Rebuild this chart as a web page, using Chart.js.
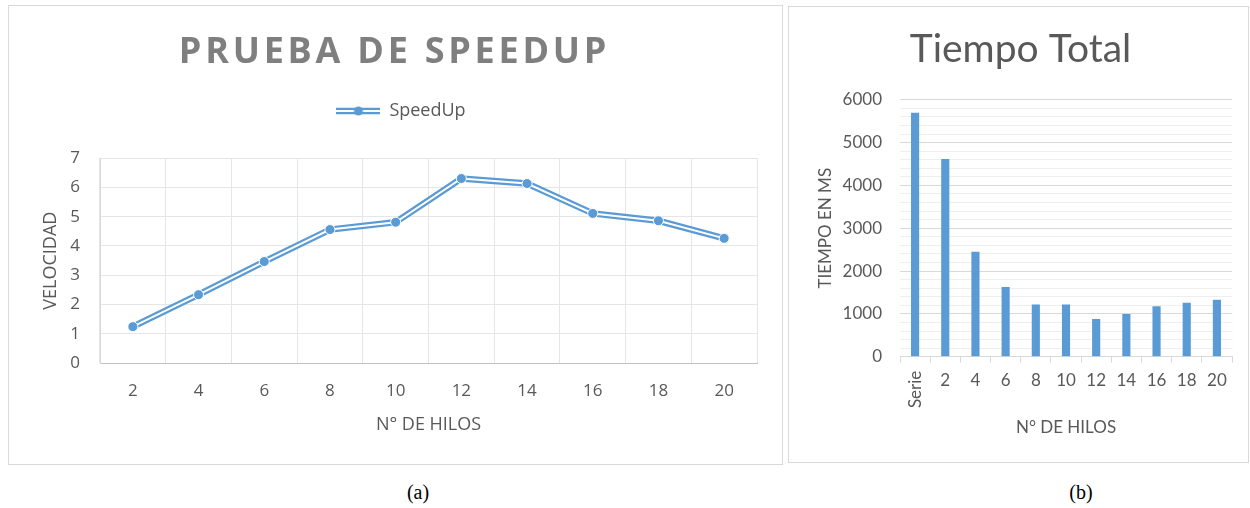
<!DOCTYPE html>
<html lang="es">
<head>
<meta charset="utf-8">
<title>Prueba de speedup y tiempo total</title>
<script src="https://cdn.jsdelivr.net/npm/chart.js@4.4.1/dist/chart.umd.min.js"></script>
<style>
  html, body { margin: 0; padding: 0; background: #fff; }
  body { width: 1250px; height: 508px; position: relative; overflow: hidden; }
  .box { position: absolute; border: 1px solid #d9d9d9; background: #fff; }
  #boxA { left: 8px; top: 5px; width: 773px; height: 458px; }
  #boxB { left: 788px; top: 6px; width: 459px; height: 455px; }
  .cap { position: absolute; top: 480px; font-family: "Liberation Serif", serif; font-size: 20px;
         line-height: 24px; color: #000; transform: translateX(-50%); }
</style>
</head>
<body>
<div class="box" id="boxA"><canvas id="speedupChart"></canvas></div>
<div class="box" id="boxB"><canvas id="tiempoChart"></canvas></div>
<div class="cap" style="left:418px">(a)</div>
<div class="cap" style="left:1081px">(b)</div>

<script>
// datos
const hilos = ['2', '4', '6', '8', '10', '12', '14', '16', '18', '20'];
const speedup = [1.25, 2.34, 3.47, 4.56, 4.81, 6.30, 6.13, 5.11, 4.86, 4.26];

const categoriasTiempo = ['Serie', '2', '4', '6', '8', '10', '12', '14', '16', '18', '20'];
const tiempoMs = [5700, 4620, 2450, 1630, 1220, 1220, 880, 1000, 1180, 1260, 1330];

const AZUL = '#5b9bd5';
const GRIS_TEXTO = '#595959';

Chart.defaults.animation = false;
Chart.defaults.plugins.tooltip.enabled = false;
Chart.defaults.color = GRIS_TEXTO;

// icono de la leyenda: linea doble con punto
function iconoLeyenda() {
  const c = document.createElement('canvas');
  c.width = 44; c.height = 12;
  const g = c.getContext('2d');
  g.strokeStyle = AZUL; g.lineWidth = 6.5;
  g.beginPath(); g.moveTo(0, 6); g.lineTo(44, 6); g.stroke();
  g.strokeStyle = '#fff'; g.lineWidth = 2;
  g.beginPath(); g.moveTo(0, 6); g.lineTo(44, 6); g.stroke();
  g.fillStyle = AZUL;
  g.beginPath(); g.arc(22, 6, 4.5, 0, Math.PI * 2); g.fill();
  return c;
}

// titulo con espaciado entre letras (el titulo de Chart.js no lo permite)
const tituloEspaciado = {
  id: 'tituloEspaciado',
  afterDraw(chart, args, opts) {
    const ctx = chart.ctx;
    ctx.save();
    ctx.font = opts.font;
    ctx.fillStyle = opts.color;
    ctx.textAlign = 'center';
    ctx.textBaseline = 'middle';
    if ('letterSpacing' in ctx) ctx.letterSpacing = opts.spacing + 'px';
    ctx.fillText(opts.text, chart.width / 2 + opts.dx, opts.y);
    ctx.restore();
  }
};

// desplaza horizontalmente la leyenda o el titulo y deja aire bajo la leyenda
const ajusteCajas = {
  id: 'ajusteCajas',
  beforeInit(chart, args, opts) {
    const mover = (caja, dx) => {
      if (!caja || !dx) return;
      const draw = caja.draw;
      caja.draw = function () {
        const c = this.ctx;
        c.save(); c.translate(dx, 0); draw.apply(this, arguments); c.restore();
      };
    };
    if (chart.legend && opts.extraLeyenda) {
      const fit = chart.legend.fit;
      chart.legend.fit = function () { fit.call(this); this.height += opts.extraLeyenda; };
    }
    mover(chart.legend, opts.dxLeyenda);
    mover(chart.titleBlock, opts.dxTitulo);
  }
};

new Chart(document.getElementById('speedupChart'), {
  type: 'line',
  data: {
    labels: hilos,
    datasets: [
      {
        label: 'SpeedUp',
        data: speedup,
        borderColor: '#ffffff',
        borderWidth: 2,
        pointRadius: 5,
        pointBackgroundColor: AZUL,
        pointBorderColor: '#ffffff',
        pointBorderWidth: 1,
        order: 0
      },
      {
        label: 'SpeedUp borde',
        data: speedup,
        borderColor: AZUL,
        borderWidth: 6.5,
        pointRadius: 0,
        order: 1
      }
    ]
  },
  options: {
    responsive: true,
    maintainAspectRatio: false,
    layout: { padding: { top: 86, right: 25, left: 0, bottom: 0 } },
    plugins: {
      title: { display: false },
      tituloEspaciado: {
        text: 'PRUEBA DE SPEEDUP',
        font: 'bold 36px "Open Sans"',
        color: '#7f7f7f',
        spacing: 3.75,
        dx: -1,
        y: 47
      },
      ajusteCajas: { extraLeyenda: 28, dxLeyenda: 18 },
      legend: {
        position: 'top',
        labels: {
          usePointStyle: true,
          pointStyle: iconoLeyenda(),
          pointStyleWidth: 44,
          padding: 10,
          font: { family: 'Open Sans', size: 18 },
          color: GRIS_TEXTO,
          filter: item => item.datasetIndex === 0
        }
      }
    },
    scales: {
      x: {
        offset: true,
        afterFit: s => { s.height = 100.7; },
        grid: { offset: true, color: '#e6e6e6', drawTicks: false },
        border: { color: '#bfbfbf' },
        ticks: { padding: 18, font: { family: 'Open Sans', size: 17 }, color: GRIS_TEXTO },
        title: { display: true, text: 'N° DE HILOS', font: { family: 'Open Sans', size: 18 },
                 color: GRIS_TEXTO, padding: { top: 0, bottom: 28 } }
      },
      y: {
        min: 0, max: 7,
        afterFit: s => { s.width = 91; },
        grid: { color: '#e6e6e6', drawTicks: false },
        border: { color: '#d9d9d9' },
        ticks: { stepSize: 1, padding: 20, font: { family: 'Open Sans', size: 17 }, color: GRIS_TEXTO },
        title: { display: true, text: 'VELOCIDAD', font: { family: 'Open Sans', size: 18 },
                 color: GRIS_TEXTO, padding: { top: 31, bottom: 0 } }
      }
    }
  },
  plugins: [tituloEspaciado, ajusteCajas]
});

// la etiqueta "Serie" va girada, el resto horizontal
const etiquetaSerie = {
  id: 'etiquetaSerie',
  afterDraw(chart) {
    const x = chart.scales.x;
    const ctx = chart.ctx;
    ctx.save();
    ctx.translate(x.getPixelForTick(0), x.top + 14);
    ctx.rotate(-Math.PI / 2);
    ctx.font = '17px Lato';
    ctx.fillStyle = GRIS_TEXTO;
    ctx.textAlign = 'right';
    ctx.textBaseline = 'middle';
    ctx.fillText(categoriasTiempo[0], 0, 0);
    ctx.restore();
  }
};

new Chart(document.getElementById('tiempoChart'), {
  type: 'bar',
  data: {
    labels: categoriasTiempo,
    datasets: [{
      label: 'Tiempo',
      data: tiempoMs,
      backgroundColor: AZUL,
      categoryPercentage: 1,
      barPercentage: 0.27
    }]
  },
  options: {
    responsive: true,
    maintainAspectRatio: false,
    layout: { padding: { top: 19, right: 16, left: 0, bottom: 0 } },
    plugins: {
      legend: { display: false },
      ajusteCajas: { dxTitulo: 10 },
      title: {
        display: true,
        text: 'Tiempo Total',
        font: { family: 'Lato', size: 39, weight: 'normal' },
        color: GRIS_TEXTO,
        padding: { top: 0, bottom: 27 }
      }
    },
    scales: {
      x: {
        afterFit: s => { s.height = 105.3; },
        grid: { offset: true, drawOnChartArea: false, drawTicks: true, tickLength: 6, color: '#d9d9d9' },
        border: { color: '#d9d9d9' },
        ticks: {
          padding: 8, maxRotation: 0, autoSkip: false,
          font: { family: 'Lato', size: 17 }, color: GRIS_TEXTO,
          callback: (v, i) => i === 0 ? '' : categoriasTiempo[i]
        },
        title: { display: true, text: 'N° DE HILOS', font: { family: 'Lato', size: 17 },
                 color: GRIS_TEXTO, padding: { top: 0, bottom: 24 } }
      },
      y: {
        min: 0, max: 6000,
        afterFit: s => { s.width = 111; },
        grid: {
          drawTicks: false,
          color: ctx => ctx.tick.value % 1000 === 0 ? '#d9d9d9' : '#eeeeee'
        },
        border: { display: false },
        ticks: {
          stepSize: 200, autoSkip: false, padding: 18,
          font: { family: 'Lato', size: 17 }, color: GRIS_TEXTO,
          callback: v => v % 1000 === 0 ? v : ''
        },
        title: { display: true, text: 'TIEMPO EN MS', font: { family: 'Lato', size: 17 },
                 color: GRIS_TEXTO, padding: { top: 26, bottom: 0 } }
      }
    }
  },
  plugins: [etiquetaSerie, ajusteCajas]
});
</script>
</body>
</html>
